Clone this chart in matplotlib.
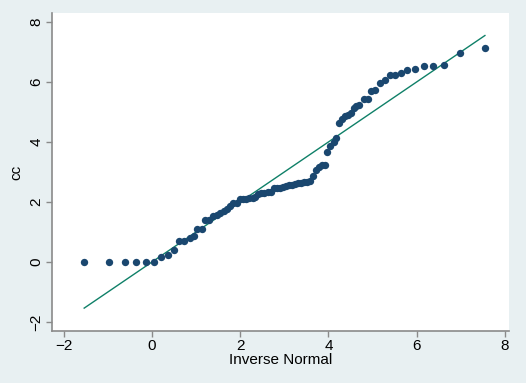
import matplotlib.pyplot as plt

# inverse normal quantiles (x) and sorted cc values (y)
inv_normal = [-1.54, -0.98, -0.62, -0.36, -0.14, 0.05, 0.21, 0.36, 0.50, 0.61,
              0.73, 0.85, 0.94, 1.03, 1.13, 1.21, 1.30, 1.38, 1.47, 1.54,
              1.63, 1.69, 1.76, 1.84, 1.92, 2.00, 2.07, 2.14, 2.21, 2.28,
              2.34, 2.41, 2.48, 2.55, 2.62, 2.69, 2.76, 2.83, 2.90, 2.97,
              3.03, 3.10, 3.17, 3.24, 3.31, 3.37, 3.44, 3.51, 3.58, 3.65,
              3.71, 3.78, 3.85, 3.92, 3.97, 4.04, 4.12, 4.18, 4.25, 4.31,
              4.37, 4.44, 4.51, 4.57, 4.63, 4.70, 4.80, 4.89, 4.97, 5.06,
              5.18, 5.28, 5.39, 5.51, 5.64, 5.79, 5.96, 6.16, 6.38, 6.63,
              6.99, 7.55]
cc = [0.0, 0.0, 0.0, 0.0, 0.0, 0.0, 0.18, 0.22, 0.41, 0.70,
      0.70, 0.79, 0.88, 1.10, 1.10, 1.39, 1.39, 1.54, 1.57, 1.63,
      1.71, 1.77, 1.87, 1.95, 1.95, 2.11, 2.11, 2.11, 2.14, 2.14,
      2.18, 2.25, 2.29, 2.29, 2.32, 2.32, 2.45, 2.48, 2.48, 2.49,
      2.52, 2.56, 2.58, 2.61, 2.63, 2.63, 2.65, 2.65, 2.71, 2.85,
      3.07, 3.16, 3.22, 3.22, 3.67, 3.85, 4.01, 4.12, 4.62, 4.76,
      4.87, 4.91, 4.98, 5.12, 5.20, 5.22, 5.44, 5.44, 5.70, 5.72,
      5.96, 6.06, 6.23, 6.23, 6.31, 6.40, 6.42, 6.55, 6.55, 6.57,
      6.98, 7.13]

ref_x = [min(inv_normal), max(inv_normal)]

plt.rcParams["font.family"] = ["Liberation Sans", "DejaVu Sans"]

bg = "#e8f0f2"
fig = plt.figure(figsize=(5.26, 3.83), dpi=100, facecolor=bg)
ax = fig.add_axes([0.098, 0.136, 0.870, 0.830])
ax.set_facecolor("white")

ax.plot(inv_normal, cc, "o", color="#1a476f", markersize=5.3, markeredgewidth=0, zorder=3)
ax.plot(ref_x, ref_x, color="#0f8068", linewidth=1.0, zorder=2)

ax.set_xlim(-2.28, 8.1)
ax.set_ylim(-2.3, 8.3)
ax.set_xticks([-2, 0, 2, 4, 6, 8])
ax.set_yticks([-2, 0, 2, 4, 6, 8])
for lbl in ax.get_yticklabels():
    lbl.set_rotation(90)
    lbl.set_va("center")

for s in ["top", "right"]:
    ax.spines[s].set_visible(False)
for s in ["left", "bottom"]:
    ax.spines[s].set_color("#8a8a8a")
    ax.spines[s].set_linewidth(1.2)
ax.tick_params(direction="out", length=4, width=1, color="#8a8a8a",
               labelsize=11, pad=2)

ax.set_xlabel("Inverse Normal", fontsize=11, labelpad=0)
ax.set_ylabel("cc", fontsize=11, labelpad=4)

fig.savefig("out.png", dpi=100, facecolor=bg)
